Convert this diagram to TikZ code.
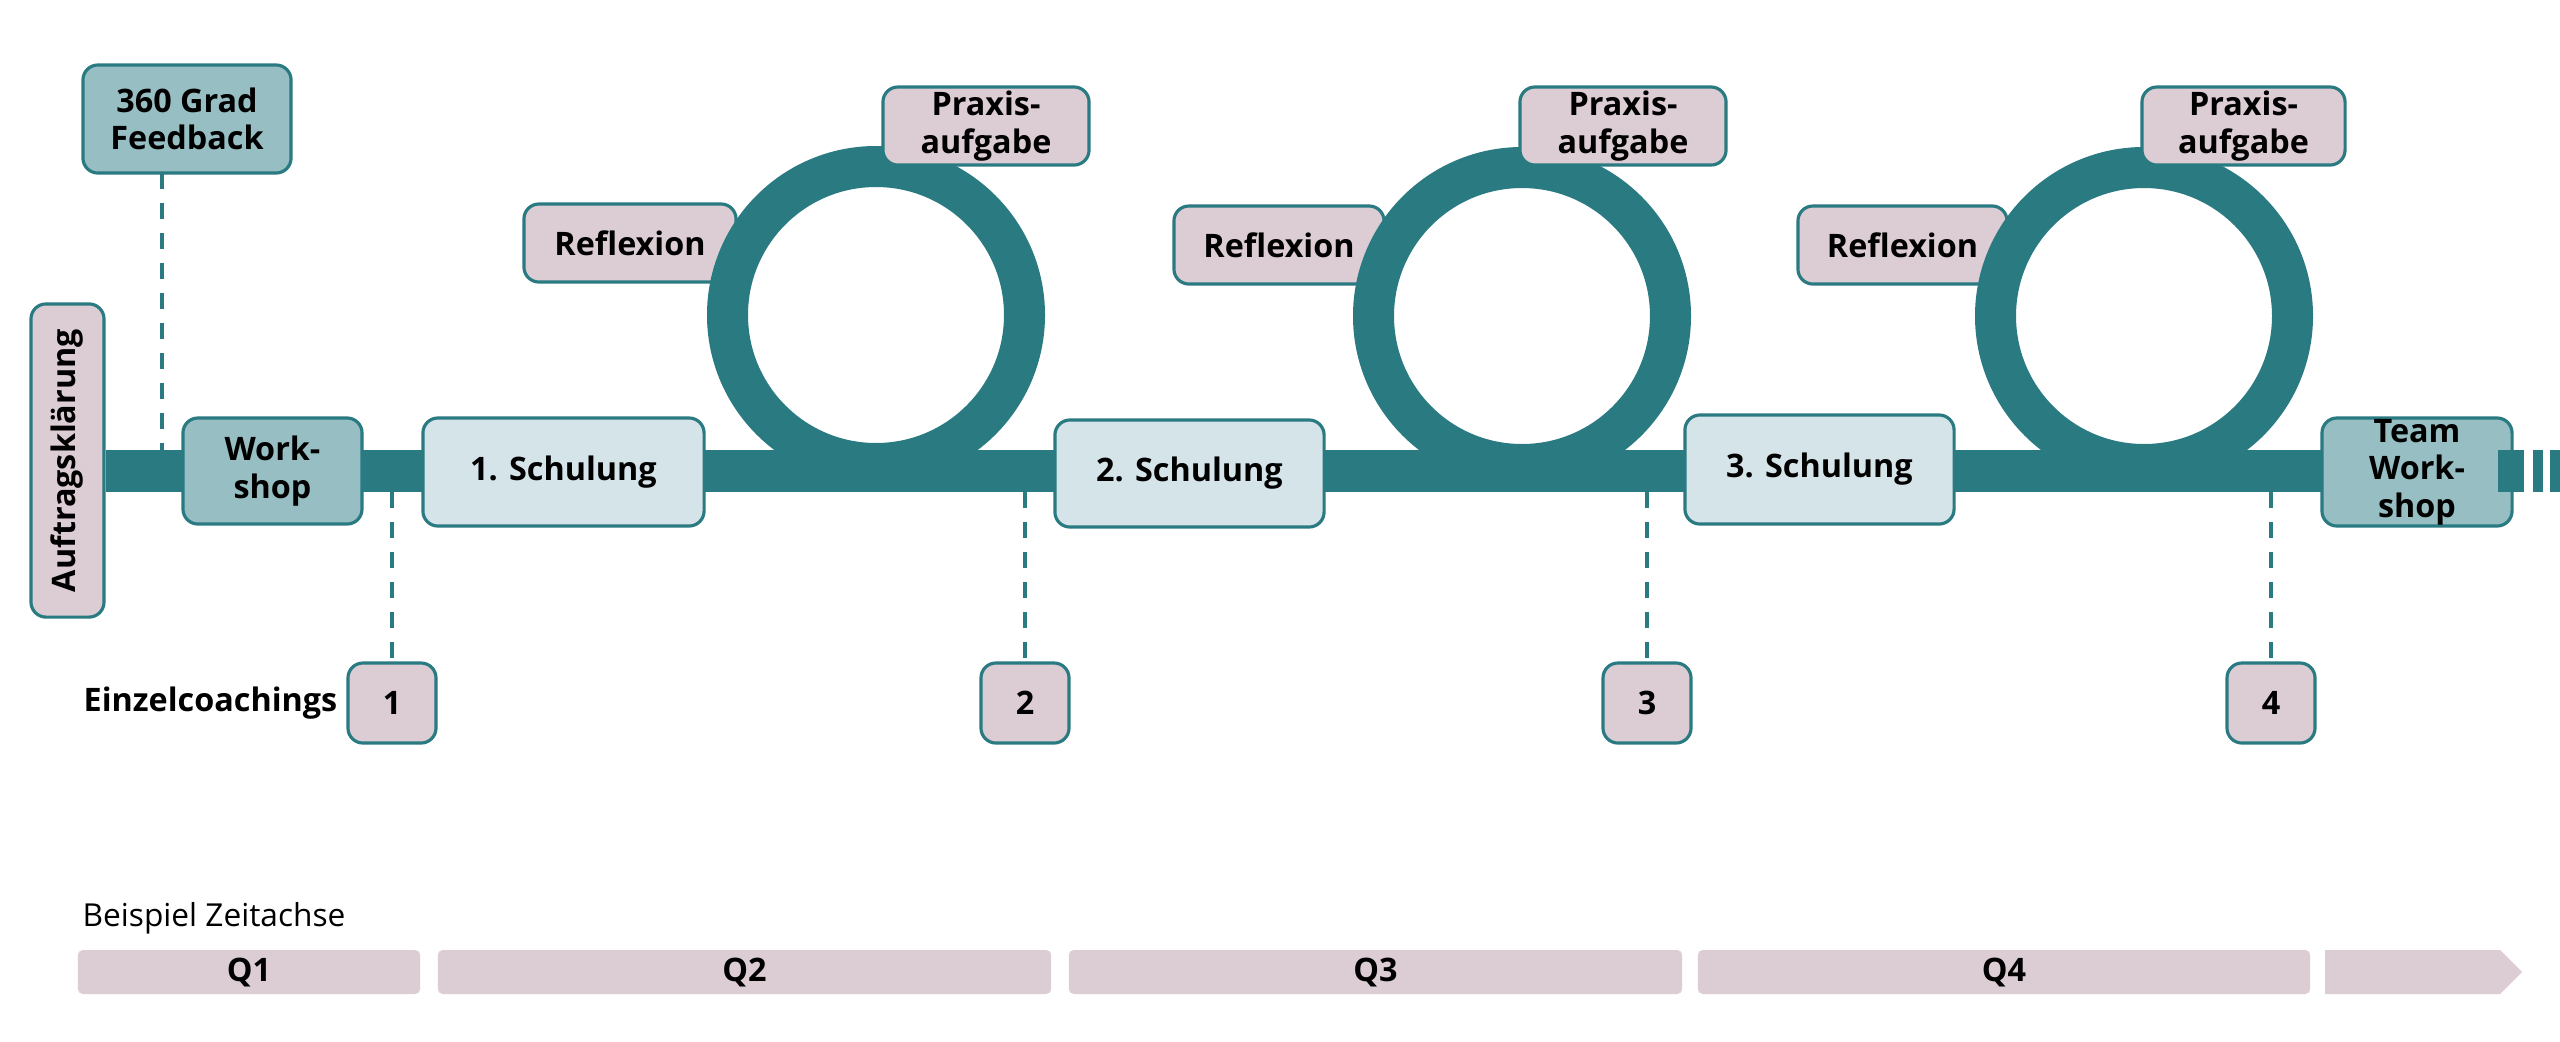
\documentclass[tikz,border=0pt]{standalone}
\usepackage{fontspec}
\setmainfont{Open Sans}
\usetikzlibrary{calc}
\definecolor{tealD}{RGB}{42,122,130}
\definecolor{tealL}{RGB}{150,190,195}
\definecolor{blueL}{RGB}{213,228,233}
\definecolor{pinkL}{RGB}{220,205,212}
\definecolor{qbarC}{RGB}{219,205,211}
\begin{document}
\begin{tikzpicture}[x=0.01cm,y=-0.01cm,
  box/.style={draw=tealD, line width=0.9pt, rounded corners=0.15cm, align=center, inner sep=0pt,
    font=\bfseries\fontsize{9.2}{10.7}\selectfont},
  tealbox/.style={box, fill=tealL},
  bluebox/.style={box, fill=blueL},
  pinkbox/.style={box, fill=pinkL},
  track/.style={draw=tealD, line width=0.42cm},
  ring/.style={draw=tealD, line width=0.41cm},
  dashln/.style={draw=tealD, line width=1.3pt, dash pattern=on 0.16cm off 0.14cm},
  qbar/.style={fill=qbarC, rounded corners=0.05cm, inner sep=0pt, minimum height=0.44cm,
    font=\bfseries\fontsize{9.2}{10.7}\selectfont},
  lbl/.style={inner sep=0pt, font=\bfseries\fontsize{9.2}{10.7}\selectfont}]
\useasboundingbox (0,0) rectangle (2560,1041);

% nodes on the track
\node[pinkbox, minimum width=0.73cm, minimum height=3.13cm] (auf) at (67.5,460.5) {\rotatebox{90}{Auftragsklärung}};
\coordinate (trkend) at (2524,471);
\draw[track] (auf.east |- trkend) -- (trkend);
\fill[tealD] (2533,450) rectangle (2543,492);
\fill[tealD] (2550,450) rectangle (2560,492);

% reflexion boxes (behind the loops)
\node[pinkbox, minimum width=2.12cm, minimum height=0.78cm] (r1) at (630,243) {Reflexion};
\node[pinkbox, minimum width=2.10cm, minimum height=0.78cm] (r2) at (1279,245) {Reflexion};
\node[pinkbox, minimum width=2.09cm, minimum height=0.78cm] (r3) at (1902.5,245) {Reflexion};

% loops
\coordinate (c1) at (876,315);
\coordinate (c2) at (1522,316);
\coordinate (c3) at (2144,316);
\draw[ring] (c1) circle[radius=148.5];
\draw[ring] (c2) circle[radius=148.5];
\draw[ring] (c3) circle[radius=148.5];

% praxis boxes
\node[pinkbox, minimum width=2.06cm, minimum height=0.78cm] (p1) at (986,126) {Praxis-\\aufgabe};
\node[pinkbox, minimum width=2.06cm, minimum height=0.78cm] (p2) at (1623,126) {Praxis-\\aufgabe};
\node[pinkbox, minimum width=2.03cm, minimum height=0.78cm] (p3) at (2243.5,126) {Praxis-\\aufgabe};

% feedback
\node[tealbox, minimum width=2.08cm, minimum height=1.08cm] (fb) at (187,119) {360 Grad\\Feedback};
\coordinate (fbx) at (162,173);
\coordinate (ttop) at (0,450);
\coordinate (tbot) at (0,492);
\draw[dashln] (fbx) -- (fbx |- ttop);

% boxes on track
\node[tealbox, minimum width=1.79cm, minimum height=1.06cm] (ws) at (272.5,471) {Work-\\shop};
\node[bluebox, minimum width=2.81cm, minimum height=1.08cm] (s1) at (563.5,472) {1. Schulung};
\node[bluebox, minimum width=2.69cm, minimum height=1.07cm] (s2) at (1189.5,473.5) {2. Schulung};
\node[bluebox, minimum width=2.69cm, minimum height=1.09cm] (s3) at (1819.5,469.5) {3. Schulung};
\node[tealbox, minimum width=1.90cm, minimum height=1.08cm] (tw) at (2417,472) {Team\\Work-\\shop};
\fill[tealD] (2498,450) rectangle (trkend |- tbot);

% coachings
\node[pinkbox, minimum width=0.88cm, minimum height=0.80cm] (n1) at (392,703) {1};
\node[pinkbox, minimum width=0.88cm, minimum height=0.80cm] (n2) at (1025,703) {2};
\node[pinkbox, minimum width=0.88cm, minimum height=0.80cm] (n3) at (1647,703) {3};
\node[pinkbox, minimum width=0.88cm, minimum height=0.80cm] (n4) at (2271,703) {4};
\node[lbl, anchor=east] (ez) at (338,703) {Einzelcoachings};
\draw[dashln] (n1.north |- tbot) -- (n1.north);
\draw[dashln] (n2.north |- tbot) -- (n2.north);
\draw[dashln] (n3.north |- tbot) -- (n3.north);
\draw[dashln] (n4.north |- tbot) -- (n4.north);

% time axis
\node[inner sep=0pt, anchor=west, font=\fontsize{9}{10.7}\selectfont] (bz) at (82,918) {Beispiel Zeitachse};
\node[qbar, minimum width=3.42cm] (q1) at (249,972) {Q1};
\node[qbar, minimum width=6.13cm] (q2) at (744.5,972) {Q2};
\node[qbar, minimum width=6.13cm] (q3) at (1375.5,972) {Q3};
\node[qbar, minimum width=6.12cm] (q4) at (2004,972) {Q4};
\fill[qbarC] (2325,950) -- (2500,950) -- (2522,972) -- (2500,994) -- (2325,994) -- cycle;
\end{tikzpicture}
\end{document}
